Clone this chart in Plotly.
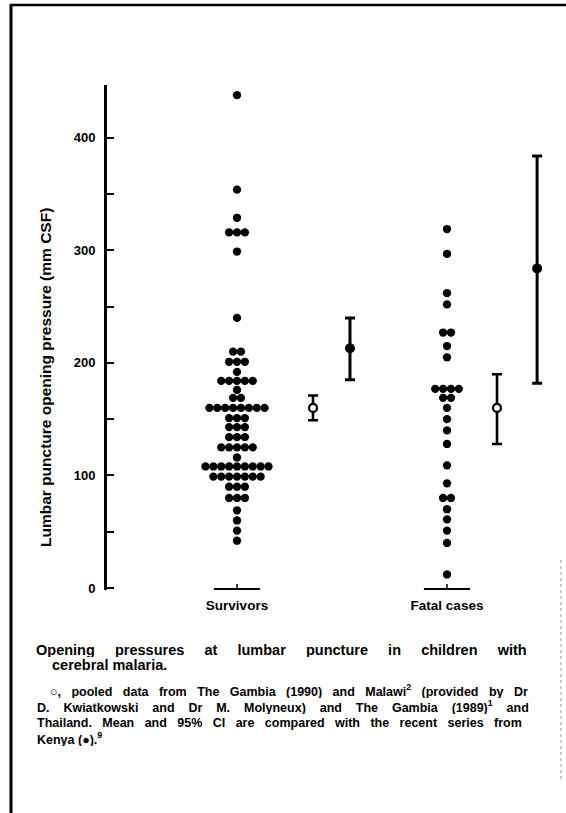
import plotly.graph_objects as go
from collections import Counter

# ---------------- data ----------------
categories = ["Survivors", "Fatal cases"]

survivors = ([438, 354, 329] + [316] * 3 + [299, 240] + [210] * 2 + [201] * 3 + [192]
             + [184] * 5 + [176] + [169] * 2 + [160] * 8 + [151] * 3 + [143] * 3
             + [134] * 3 + [125] * 5 + [116] + [108] * 9 + [99] * 7 + [90] * 3
             + [80] * 3 + [69, 60, 51, 42])

fatal = ([319, 297, 262, 252] + [227] * 2 + [215, 205] + [177] * 4 + [169] * 2
         + [160, 150, 140, 128, 109, 93] + [80] * 2 + [70, 61, 51, 40, 12])

pooled_mean = [160, 160]
pooled_lo = [149, 128]
pooled_hi = [171, 190]

kenya_mean = [213, 284]
kenya_lo = [185, 182]
kenya_hi = [240, 384]

y_tick_values = [0, 100, 200, 300, 400]
y_tick_labels = ["0", "100", "200", "300", "400"]
y_minor_ticks = [50, 150, 250, 350]

y_title = "Lumbar puncture opening pressure (mm CSF)"
caption_title = [["Opening", "pressures", "at", "lumbar", "puncture", "in", "children", "with"],
                 ["cerebral", "malaria."]]
caption_body = [["○,", "pooled", "data", "from", "The", "Gambia", "(1990)", "and",
                 "Malawi<sup>2</sup>", "(provided", "by", "Dr"],
                ["D.", "Kwiatkowski", "and", "Dr", "M.", "Molyneux)", "and", "The", "Gambia",
                 "(1989)<sup>1</sup>", "and"],
                ["Thailand.", "Mean", "and", "95%", "CI", "are", "compared", "with", "the",
                 "recent", "series", "from"],
                ["Kenya", "(●).<sup>9</sup>"]]

# ---------------- layout constants ----------------
W, H = 566, 813
L, R, T, B = 107, 6, 85, 223
cat_x = [1, 2]
pooled_offset = [0.362, 0.238]
kenya_offset = [0.538, 0.429]
dot_step = 0.0375
FONT = "Liberation Sans, Arial, sans-serif"
NB = "\u00a0"


def px(xp):
    return (xp - L) / (W - L - R)


def py(yp):
    return (H - B - yp) / (H - T - B)


def swarm(values, center):
    counts = Counter(values)
    seen = Counter()
    xs = []
    for v in values:
        n = counts[v]
        i = seen[v]
        seen[v] += 1
        xs.append(center + (i - (n - 1) / 2) * dot_step)
    return xs


def justify(words, gap):
    return (NB * gap + " ").join(words)


fig = go.Figure()

for vals, cx in zip([survivors, fatal], cat_x):
    fig.add_trace(go.Scatter(
        x=swarm(vals, cx), y=vals, mode="markers",
        marker=dict(size=8.3, color="black", line=dict(width=0)),
        showlegend=False, hoverinfo="y"))

# pooled (open circles)
fig.add_trace(go.Scatter(
    x=[c + o for c, o in zip(cat_x, pooled_offset)], y=pooled_mean, mode="markers",
    marker=dict(size=8, color="white", line=dict(width=2.2, color="black")),
    error_y=dict(type="data", symmetric=False,
                 array=[h - m for h, m in zip(pooled_hi, pooled_mean)],
                 arrayminus=[m - l for l, m in zip(pooled_lo, pooled_mean)],
                 color="black", thickness=2.6, width=5),
    showlegend=False))

# Kenya (filled circles)
fig.add_trace(go.Scatter(
    x=[c + o for c, o in zip(cat_x, kenya_offset)], y=kenya_mean, mode="markers",
    marker=dict(size=10, color="black"),
    error_y=dict(type="data", symmetric=False,
                 array=[h - m for h, m in zip(kenya_hi, kenya_mean)],
                 arrayminus=[m - l for l, m in zip(kenya_lo, kenya_mean)],
                 color="black", thickness=3, width=5),
    showlegend=False))

shapes = []
# short baselines under each category
for cx in cat_x:
    shapes.append(dict(type="line", xref="x", yref="paper", x0=cx - 0.11, x1=cx + 0.11,
                       y0=0.002, y1=0.002, line=dict(color="black", width=2)))
    shapes.append(dict(type="line", xref="x", yref="paper", x0=cx, x1=cx,
                       y0=0.002, y1=0.012, line=dict(color="black", width=1.5)))
# page frame
shapes.append(dict(type="line", xref="paper", yref="paper", x0=px(11), x1=px(11),
                   y0=py(4), y1=py(813), line=dict(color="black", width=3)))
shapes.append(dict(type="line", xref="paper", yref="paper", x0=px(10), x1=px(566),
                   y0=py(5), y1=py(5), line=dict(color="black", width=2.5)))
shapes.append(dict(type="line", xref="paper", yref="paper", x0=px(561), x1=px(561),
                   y0=py(560), y1=py(780), line=dict(color="#999999", width=1, dash="dot")))

annotations = []
annotations.append(dict(text="<b>" + y_title + "</b>", xref="paper", yref="paper",
                        x=px(45), y=py(378), textangle=-90, showarrow=False,
                        xanchor="center", yanchor="middle",
                        font=dict(family=FONT, size=15.5, color="black")))

title_rows = [(caption_title[0], 34, 650, 4), (caption_title[1], 50, 665, 0)]
for words, xx, yy, gap in title_rows:
    annotations.append(dict(text="<b>" + justify(words, gap) + "</b>", xref="paper",
                            yref="paper", x=px(xx), y=py(yy), showarrow=False,
                            xanchor="left", yanchor="middle", height=14, valign="middle",
                            font=dict(family=FONT, size=14.5, color="black")))

body_rows = [(caption_body[0], 48, 690, 2), (caption_body[1], 35, 706, 3),
             (caption_body[2], 35, 722, 2), (caption_body[3], 35, 738, 0)]
for words, xx, yy, gap in body_rows:
    annotations.append(dict(text="<b>" + justify(words, gap) + "</b>", xref="paper",
                            yref="paper", x=px(xx), y=py(yy), showarrow=False,
                            xanchor="left", yanchor="middle", height=15, valign="middle",
                            font=dict(family=FONT, size=12.5, color="black")))

fig.update_layout(
    width=W, height=H, autosize=False,
    margin=dict(l=L, r=R, t=T, b=B, pad=0),
    paper_bgcolor="white", plot_bgcolor="white",
    showlegend=False,
    xaxis=dict(range=[0.381, 2.538], showgrid=False, zeroline=False, showline=False,
               tickvals=cat_x, ticktext=["<b>" + c + "</b>" for c in categories],
               ticks="", tickfont=dict(family=FONT, size=13.5, color="black"),
               ticklabelstandoff=5, fixedrange=True),
    yaxis=dict(range=[-1.8, 447], showgrid=False, zeroline=False, showline=True,
               linewidth=3, linecolor="black", ticks="inside", ticklen=7, tickwidth=2,
               tickcolor="black", tickvals=y_tick_values,
               ticktext=["<b>" + t + "</b>" for t in y_tick_labels],
               tickfont=dict(family=FONT, size=13, color="black"),
               minor=dict(tickvals=y_minor_ticks, ticks="inside", ticklen=7, tickwidth=2,
                          tickcolor="black"),
               ticklabelstandoff=6, fixedrange=True),
    shapes=shapes, annotations=annotations,
)

fig.write_html("out.html")
